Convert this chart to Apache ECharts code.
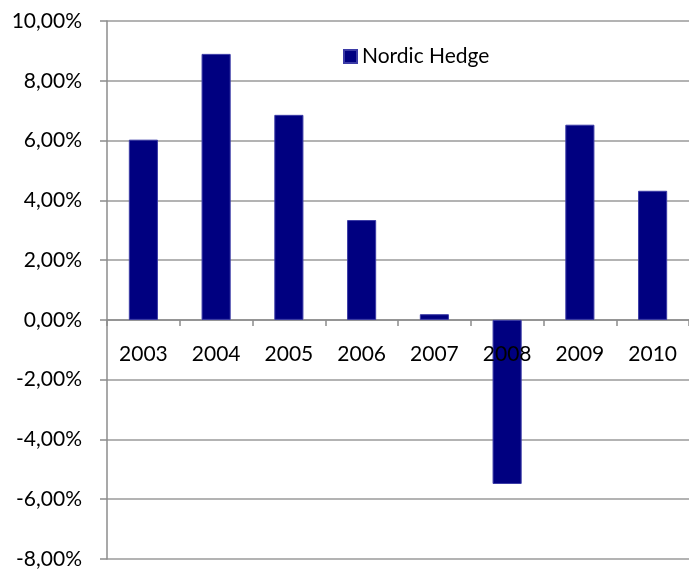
<!DOCTYPE html>
<html>
<head>
<meta charset="utf-8">
<script src="https://cdn.jsdelivr.net/npm/echarts@6/dist/echarts.min.js"></script>
<style>
  html, body { margin: 0; padding: 0; background: #fff; }
  #chart { width: 689px; height: 569px; }
</style>
</head>
<body>
<div id="chart"></div>
<script>
// data (percent)
var years = ['2003', '2004', '2005', '2006', '2007', '2008', '2009', '2010'];
var nordicHedge = [6.03, 8.9, 6.86, 3.34, 0.19, -5.49, 6.53, 4.32];
var yTicks = { min: -8, max: 10, step: 2 };

var chart = echarts.init(document.getElementById('chart'));

function pct(v) {
  return v.toFixed(2).replace('.', ',') + '%';
}

var gridTop = 21, gridBottom = 10;
var plotH = 569 - gridTop - gridBottom;
// the year labels sit under the zero line, not at the bottom of the plot
var zeroUp = plotH * (0 - yTicks.min) / (yTicks.max - yTicks.min);

var option = {
  animation: false,
  textStyle: { fontFamily: 'Lato, "Liberation Sans", sans-serif' },
  grid: { left: 107, right: 0, top: gridTop, bottom: gridBottom, containLabel: false, outerBoundsMode: 'none' },
  legend: {
    data: ['Nordic Hedge'],
    left: 338, top: 41,
    itemWidth: 13, itemHeight: 13, itemGap: 8,
    textStyle: { fontSize: 21, color: '#000', fontFamily: 'Lato, sans-serif' },
    icon: 'rect'
  },
  xAxis: [{
    type: 'category',
    data: years,
    axisLine: { onZero: true, lineStyle: { color: '#8c8c8c', width: 1.5 } },
    axisTick: { show: true, length: 6, lineStyle: { color: '#8c8c8c', width: 1.5 } },
    axisLabel: { show: false },
    splitLine: { show: false }
  }, {
    type: 'category',
    data: years,
    position: 'bottom',
    offset: -zeroUp,
    z: 10,
    axisLine: { show: false },
    axisTick: { show: false },
    axisLabel: { color: '#000', fontSize: 21, margin: 24 },
    splitLine: { show: false }
  }],
  yAxis: {
    type: 'value',
    min: yTicks.min, max: yTicks.max, interval: yTicks.step,
    axisLine: { show: true, lineStyle: { color: '#8c8c8c', width: 1.5 } },
    axisTick: { show: true, length: 7, lineStyle: { color: '#8c8c8c', width: 1.5 } },
    axisLabel: { color: '#000', fontSize: 21, margin: 25, formatter: pct },
    splitLine: { show: true, lineStyle: { color: '#9a9a9a', width: 1.5 } }
  },
  series: [{
    name: 'Nordic Hedge',
    type: 'bar',
    xAxisIndex: 0,
    data: nordicHedge,
    barWidth: '40%',
    itemStyle: { color: '#000080', borderColor: '#3b3ba6', borderWidth: 1 }
  }]
};

chart.setOption(option);
</script>
</body>
</html>
